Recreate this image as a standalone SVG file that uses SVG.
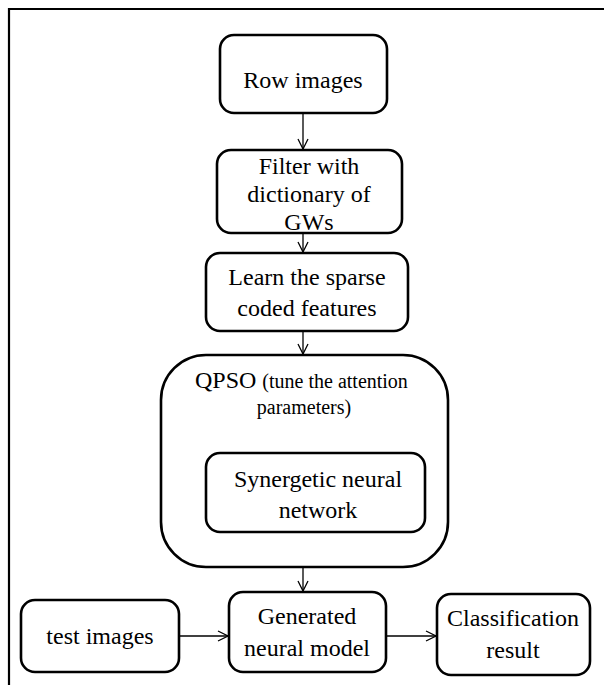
<svg xmlns="http://www.w3.org/2000/svg" width="604" height="685" viewBox="0 0 604 685">
<defs>
<marker id="ah" viewBox="0 0 12 12" refX="11" refY="6" markerWidth="12" markerHeight="12" markerUnits="userSpaceOnUse" orient="auto">
<path d="M1,1 L11,6 L1,11" fill="none" stroke="#000" stroke-width="1.3"/>
</marker>
<style>
.b{fill:#fff;stroke:#000;stroke-width:2.6}
.t{font-family:"Liberation Serif","Times New Roman",serif;font-size:24px;fill:#000;text-anchor:middle}
.c{stroke:#000;stroke-width:1.3;fill:none;marker-end:url(#ah)}
</style>
</defs>
<rect x="0" y="0" width="604" height="685" fill="#fff"/>
<path d="M9,685 L9,9 L604,9" fill="none" stroke="#000" stroke-width="2.2"/>
<g id="row"><rect class="b" x="220" y="35" width="167" height="78" rx="14"/><text class="t" x="303" y="88">Row images</text></g>
<g id="filter"><rect class="b" x="217" y="150" width="185" height="83" rx="14"/><text class="t" x="309" y="174">Filter with</text><text class="t" x="309" y="202">dictionary of</text><text class="t" x="309" y="230">GWs</text></g>
<g id="learn"><rect class="b" x="206" y="253" width="202" height="78" rx="14"/><text class="t" x="307" y="285">Learn the sparse</text><text class="t" x="307" y="316">coded features</text></g>
<g id="qpso"><rect class="b" x="161" y="355" width="287" height="212" rx="45"/><text x="195" y="388" style="font-family:'Liberation Serif','Times New Roman',serif;font-size:24px"><tspan>QPSO </tspan><tspan style="font-size:20px">(tune the attention</tspan></text><text class="t" x="304" y="414" style="font-size:20px">parameters)</text></g>
<g id="syn"><rect class="b" x="206" y="453" width="219" height="79" rx="14"/><text class="t" x="318" y="487">Synergetic neural</text><text class="t" x="318" y="518">network</text></g>
<g id="test"><rect class="b" x="21" y="600" width="158" height="72" rx="14"/><text class="t" x="100" y="644">test images</text></g>
<g id="gen"><rect class="b" x="229" y="592" width="157" height="80" rx="14"/><text class="t" x="307" y="624">Generated</text><text class="t" x="307" y="656">neural model</text></g>
<g id="cls"><rect class="b" x="437" y="594" width="153" height="81" rx="14"/><text class="t" x="513" y="626">Classification</text><text class="t" x="513" y="658">result</text></g>
<g id="connectors">
<line class="c" x1="303" y1="114" x2="303" y2="149"/>
<line class="c" x1="303" y1="234" x2="303" y2="252"/>
<line class="c" x1="303" y1="332" x2="303" y2="354"/>
<line class="c" x1="303" y1="568" x2="303" y2="591"/>
<line class="c" x1="179" y1="636" x2="228" y2="636"/>
<line class="c" x1="386" y1="636" x2="436" y2="636"/>
</g>
</svg>
